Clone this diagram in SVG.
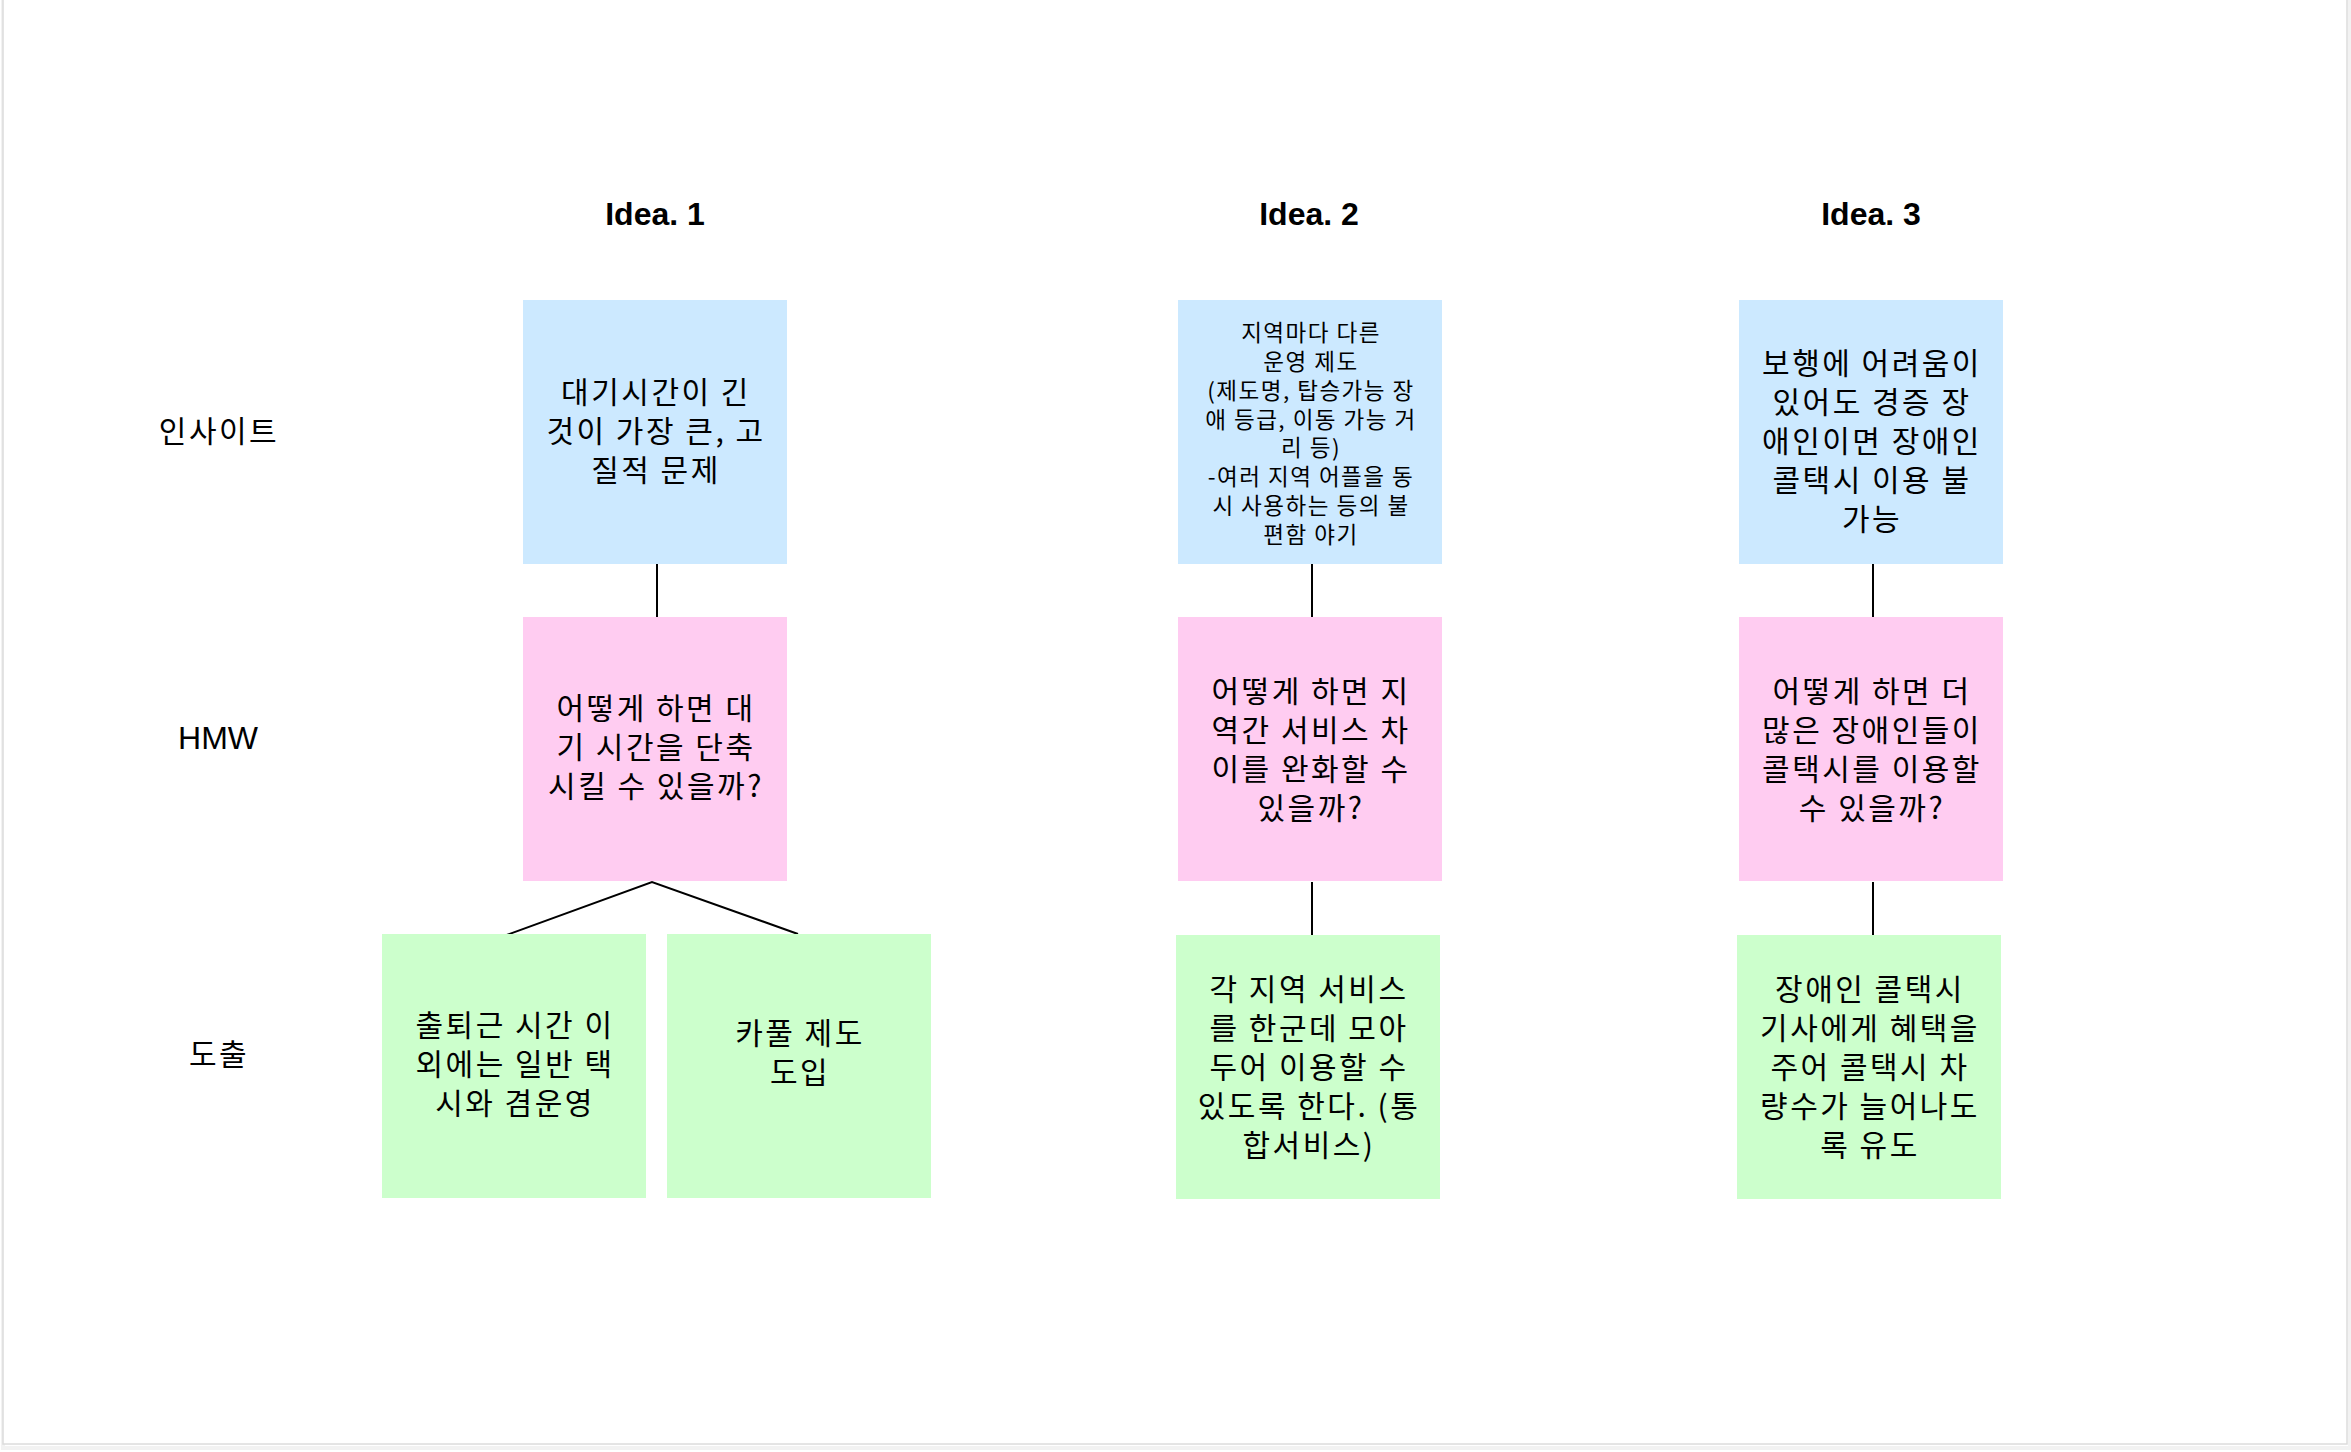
<svg xmlns="http://www.w3.org/2000/svg" width="2351" height="1452" viewBox="0 0 2351 1452">
<style>
.t{font-family:"Noto Sans CJK KR","Liberation Sans",sans-serif;font-size:30px;letter-spacing:2.5px;fill:#000;text-anchor:middle}
.s{font-size:22.5px;letter-spacing:1.5px}
.h{font-family:"Liberation Sans","Noto Sans CJK KR",sans-serif;font-weight:bold;font-size:32px;fill:#000;text-anchor:middle}
.lbl{font-family:"Liberation Sans","Noto Sans CJK KR",sans-serif;font-size:32px;fill:#000;text-anchor:middle}
.blue{fill:#CCE9FF}
.pink{fill:#FFCCF1}
.green{fill:#CCFFCC}
.c{stroke:#000;stroke-width:2;fill:none}
</style>
<rect x="0" y="0" width="2351" height="1452" fill="#fff"/>
<g id="frame">
<rect x="3" y="-10" width="2347" height="1458" fill="none" stroke="#f2f2f2" stroke-width="4"/>
<rect x="3" y="-10" width="2344" height="1454" fill="#fff" stroke="#dcdcdc" stroke-width="1.5"/>
</g>
<g id="titles">
<text class="h" x="655" y="225">Idea. 1</text>
<text class="h" x="1309" y="225">Idea. 2</text>
<text class="h" x="1871" y="225">Idea. 3</text>
</g>
<g id="row-labels">
<text class="t" x="219" y="442">인사이트</text>
<text class="lbl" x="218" y="749">HMW</text>
<text class="t" x="219" y="1065">도출</text>
</g>
<g id="connectors">
<line class="c" x1="657" y1="564" x2="657" y2="617"/>
<polyline class="c" points="504,936 652,882 798,934"/>
<line class="c" x1="1312" y1="564" x2="1312" y2="617"/>
<line class="c" x1="1312" y1="882" x2="1312" y2="937"/>
<line class="c" x1="1873" y1="564" x2="1873" y2="617"/>
<line class="c" x1="1873" y1="882" x2="1873" y2="937"/>
</g>
<g id="idea1-insight">
<rect class="blue" x="523" y="300" width="264" height="264"/>
<text class="t" x="656" y="403">대기시간이 긴</text>
<text class="t" x="656" y="442">것이 가장 큰, 고</text>
<text class="t" x="656" y="481">질적 문제</text>
</g>
<g id="idea1-hmw">
<rect class="pink" x="523" y="617" width="264" height="264"/>
<text class="t" x="656" y="719">어떻게 하면 대</text>
<text class="t" x="656" y="758">기 시간을 단축</text>
<text class="t" x="656" y="797">시킬 수 있을까?</text>
</g>
<g id="idea1-result1">
<rect class="green" x="382" y="934" width="264" height="264"/>
<text class="t" x="515" y="1036">출퇴근 시간 이</text>
<text class="t" x="515" y="1075">외에는 일반 택</text>
<text class="t" x="515" y="1114">시와 겸운영</text>
</g>
<g id="idea1-result2">
<rect class="green" x="667" y="934" width="264" height="264"/>
<text class="t" x="800" y="1044">카풀 제도</text>
<text class="t" x="800" y="1083">도입</text>
</g>
<g id="idea2-insight">
<rect class="blue" x="1178" y="300" width="264" height="264"/>
<text class="t s" x="1311" y="341">지역마다 다른</text>
<text class="t s" x="1311" y="370">운영 제도</text>
<text class="t s" x="1311" y="399">(제도명, 탑승가능 장</text>
<text class="t s" x="1311" y="428">애 등급, 이동 가능 거</text>
<text class="t s" x="1311" y="456">리 등)</text>
<text class="t s" x="1311" y="485">-여러 지역 어플을 동</text>
<text class="t s" x="1311" y="514">시 사용하는 등의 불</text>
<text class="t s" x="1311" y="543">편함 야기</text>
</g>
<g id="idea2-hmw">
<rect class="pink" x="1178" y="617" width="264" height="264"/>
<text class="t" x="1311" y="702">어떻게 하면 지</text>
<text class="t" x="1311" y="741">역간 서비스 차</text>
<text class="t" x="1311" y="780">이를 완화할 수</text>
<text class="t" x="1311" y="819">있을까?</text>
</g>
<g id="idea2-result">
<rect class="green" x="1176" y="935" width="264" height="264"/>
<text class="t" x="1309" y="1000">각 지역 서비스</text>
<text class="t" x="1309" y="1039">를 한군데 모아</text>
<text class="t" x="1309" y="1078">두어 이용할 수</text>
<text class="t" x="1309" y="1117">있도록 한다. (통</text>
<text class="t" x="1309" y="1156">합서비스)</text>
</g>
<g id="idea3-insight">
<rect class="blue" x="1739" y="300" width="264" height="264"/>
<text class="t" x="1872" y="374">보행에 어려움이</text>
<text class="t" x="1872" y="413">있어도 경증 장</text>
<text class="t" x="1872" y="452">애인이면 장애인</text>
<text class="t" x="1872" y="491">콜택시 이용 불</text>
<text class="t" x="1872" y="530">가능</text>
</g>
<g id="idea3-hmw">
<rect class="pink" x="1739" y="617" width="264" height="264"/>
<text class="t" x="1872" y="702">어떻게 하면 더</text>
<text class="t" x="1872" y="741">많은 장애인들이</text>
<text class="t" x="1872" y="780">콜택시를 이용할</text>
<text class="t" x="1872" y="819">수 있을까?</text>
</g>
<g id="idea3-result">
<rect class="green" x="1737" y="935" width="264" height="264"/>
<text class="t" x="1870" y="1000">장애인 콜택시</text>
<text class="t" x="1870" y="1039">기사에게 혜택을</text>
<text class="t" x="1870" y="1078">주어 콜택시 차</text>
<text class="t" x="1870" y="1117">량수가 늘어나도</text>
<text class="t" x="1870" y="1156">록 유도</text>
</g>
</svg>
